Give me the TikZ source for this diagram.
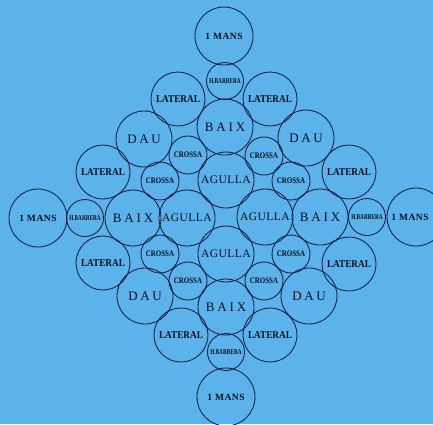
\documentclass[tikz,border=0pt]{standalone}
\usepackage{fontspec}
\setmainfont{Liberation Serif}
\definecolor{bgblue}{RGB}{92,178,234}
\definecolor{ink}{RGB}{20,30,62}
\definecolor{txt}{RGB}{10,14,30}
\tikzset{
  ring/.style={circle,draw=ink,line width=0.85pt,inner sep=0pt,text=txt,align=center},
  mansc/.style={ring,minimum size=58pt,font=\fontsize{9.5}{9.5}\selectfont\bfseries\addfontfeature{LetterSpace=6}},
  hbc/.style={ring,minimum size=37pt,font=\fontsize{7.5}{7.5}\selectfont\bfseries},
  baixc/.style={ring,minimum size=56pt,font=\fontsize{13}{13}\selectfont\addfontfeature{LetterSpace=22}},
  agc/.style={ring,minimum size=56pt,font=\fontsize{11.5}{11.5}\selectfont\addfontfeature{LetterSpace=4}},
  latc/.style={ring,minimum size=54pt,font=\fontsize{10.5}{10.5}\selectfont\bfseries},
  dauc/.style={ring,minimum size=56pt,font=\fontsize{13}{13}\selectfont\addfontfeature{LetterSpace=20}},
  crc/.style={ring,minimum size=38pt,font=\fontsize{8.5}{8.5}\selectfont\bfseries},
}
\newcommand{\hbtext}{\scalebox{0.7}[1]{H.BARRERA}}
\newcommand{\lattext}{\scalebox{0.88}[1]{LATERAL}}
\newcommand{\crtext}{\scalebox{0.82}[1]{CROSSA}}
\begin{document}
\begin{tikzpicture}[x=1pt,y=-1pt]
\fill[bgblue] (0,0) rectangle (433,424);
\useasboundingbox (0,0) rectangle (433,424);
% vertical column
\node[mansc] (m1) at (224,36) {1 MANS};
\node[hbc] (hb1) at (225,81) {\hbtext};
\node[baixc] (bx1) at (225,127) {BAIX};
\node[agc] (ag1) at (226,180) {AGULLA};
\node[agc] (ag3) at (226,254) {AGULLA};
\node[baixc] (bx3) at (226,307) {BAIX};
\node[hbc] (hb3) at (226,352) {\hbtext};
\node[mansc] (m3) at (226,397) {1 MANS};
% horizontal row
\node[mansc] (m4) at (38,218) {1 MANS};
\node[hbc] (hb4) at (85,218) {\hbtext};
\node[baixc] (bx4) at (133,218) {BAIX};
\node[agc] (ag4) at (187,218) {AGULLA};
\node[agc] (ag2) at (265,217) {AGULLA};
\node[baixc] (bx2) at (320,217) {BAIX};
\node[hbc] (hb2) at (367,217) {\hbtext};
\node[mansc] (m2) at (416,217) {1 MANS\hspace{12pt}};
% laterals
\node[latc] (l1) at (178,99) {\lattext};
\node[latc] (l2) at (270,99) {\lattext};
\node[latc] (l3) at (103,172) {\lattext};
\node[latc] (l4) at (349,172) {\lattext};
\node[latc] (l5) at (103,263) {\lattext};
\node[latc] (l6) at (349,264) {\lattext};
\node[latc] (l7) at (181,335) {\lattext};
\node[latc] (l8) at (270,335) {\lattext};
% dau
\node[dauc] (d1) at (144,139) {DAU};
\node[dauc] (d2) at (306,138) {DAU};
\node[dauc] (d3) at (145,296) {DAU};
\node[dauc] (d4) at (309,296) {DAU};
% crossa
\node[crc] (c1) at (188,155) {\crtext};
\node[crc] (c2) at (264,156) {\crtext};
\node[crc] (c3) at (160,181) {\crtext};
\node[crc] (c4) at (291,181) {\crtext};
\node[crc] (c5) at (160,254) {\crtext};
\node[crc] (c6) at (291,254) {\crtext};
\node[crc] (c7) at (188,281) {\crtext};
\node[crc] (c8) at (264,281) {\crtext};
\end{tikzpicture}
\end{document}
